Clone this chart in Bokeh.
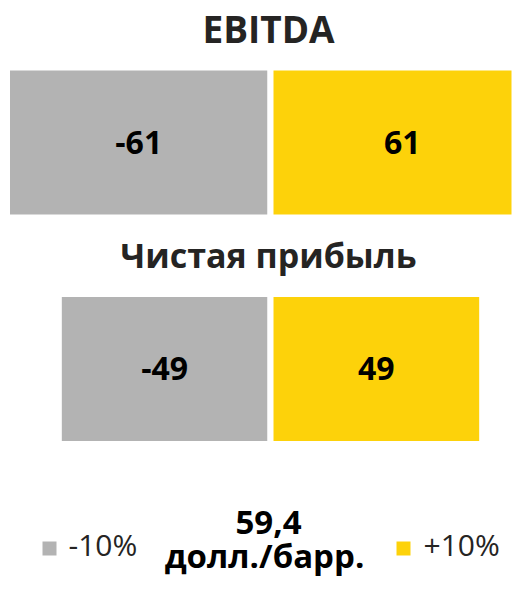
from bokeh.plotting import figure
from bokeh.models import ColumnDataSource, Range1d
from bokeh.core.properties import value
from bokeh.embed import file_html
from bokeh.resources import INLINE

# ---- data ----
categories = ["EBITDA", "Чистая прибыль"]
minus_vals = [-61, -49]
plus_vals = [61, 49]
legend_labels = ["-10%", "+10%"]
price_value = "59,4"
price_unit = "долл./барр."

GRAY = "#B3B3B3"
YELLOW = "#FDD20A"
TITLE_C = "#252423"
FONT = "Open Sans"

W, H = 514, 577
K = 4.32          # px per unit
CX = 270          # pixel position of zero
def px(x):
    return (x - CX) / K

p = figure(width=W, height=H, output_backend="svg", toolbar_location=None,
           x_range=Range1d(px(0), px(W)), y_range=Range1d(H, 0),
           min_border=0, outline_line_color=None)
p.axis.visible = False
p.grid.visible = False
p.background_fill_color = "white"
p.border_fill_color = "white"

bar_y = [142, 368.5]
title_y = [28, 254]
label_y = [142, 368]

src = ColumnDataSource(dict(y=bar_y, neg=minus_vals, pos=plus_vals,
                            zero=[0, 0],
                            negmid=[v / 2 for v in minus_vals],
                            posmid=[v / 2 for v in plus_vals],
                            negtxt=[str(v) for v in minus_vals],
                            postxt=[str(v) for v in plus_vals],
                            cat=categories, ty=title_y, ly=label_y,
                            tx=[px(268), px(268)],
                            fs=["37px", "34px"]))

p.hbar(y="y", left="neg", right="zero", height=150, source=src,
       fill_color=GRAY, line_color="white", line_width=6)
p.hbar(y="y", left="zero", right="pos", height=150, source=src,
       fill_color=YELLOW, line_color="white", line_width=6)

p.text(x="tx", y="ty", text="cat", source=src, text_font=value(FONT),
       text_font_style="bold", text_font_size="fs", text_color=TITLE_C,
       text_align="center", text_baseline="alphabetic")
p.text(x="negmid", y="ly", text="negtxt", source=src, text_font=value(FONT),
       text_font_style="bold", text_font_size="32px", text_color="black",
       text_align="center", text_baseline="alphabetic")
p.text(x="posmid", y="ly", text="postxt", source=src, text_font=value(FONT),
       text_font_style="bold", text_font_size="32px", text_color="black",
       text_align="center", text_baseline="alphabetic")

# center price label
p.text(x=[px(268), px(264)], y=[522, 555], text=[price_value, price_unit],
       text_font=value(FONT), text_font_style="bold", text_font_size="33px",
       text_color="black", text_align="center", text_baseline="alphabetic")

# legend
p.scatter(x=[px(49), px(403)], y=[548, 548], marker="square", size=14,
          fill_color=[GRAY, YELLOW], line_color=None)
p.text(x=[px(68), px(423)], y=[544, 544], text=legend_labels,
       text_font=value(FONT), text_font_size="30px", text_color=TITLE_C,
       text_align="left", text_baseline="alphabetic")

open("out.html", "w").write(file_html(p, INLINE))
